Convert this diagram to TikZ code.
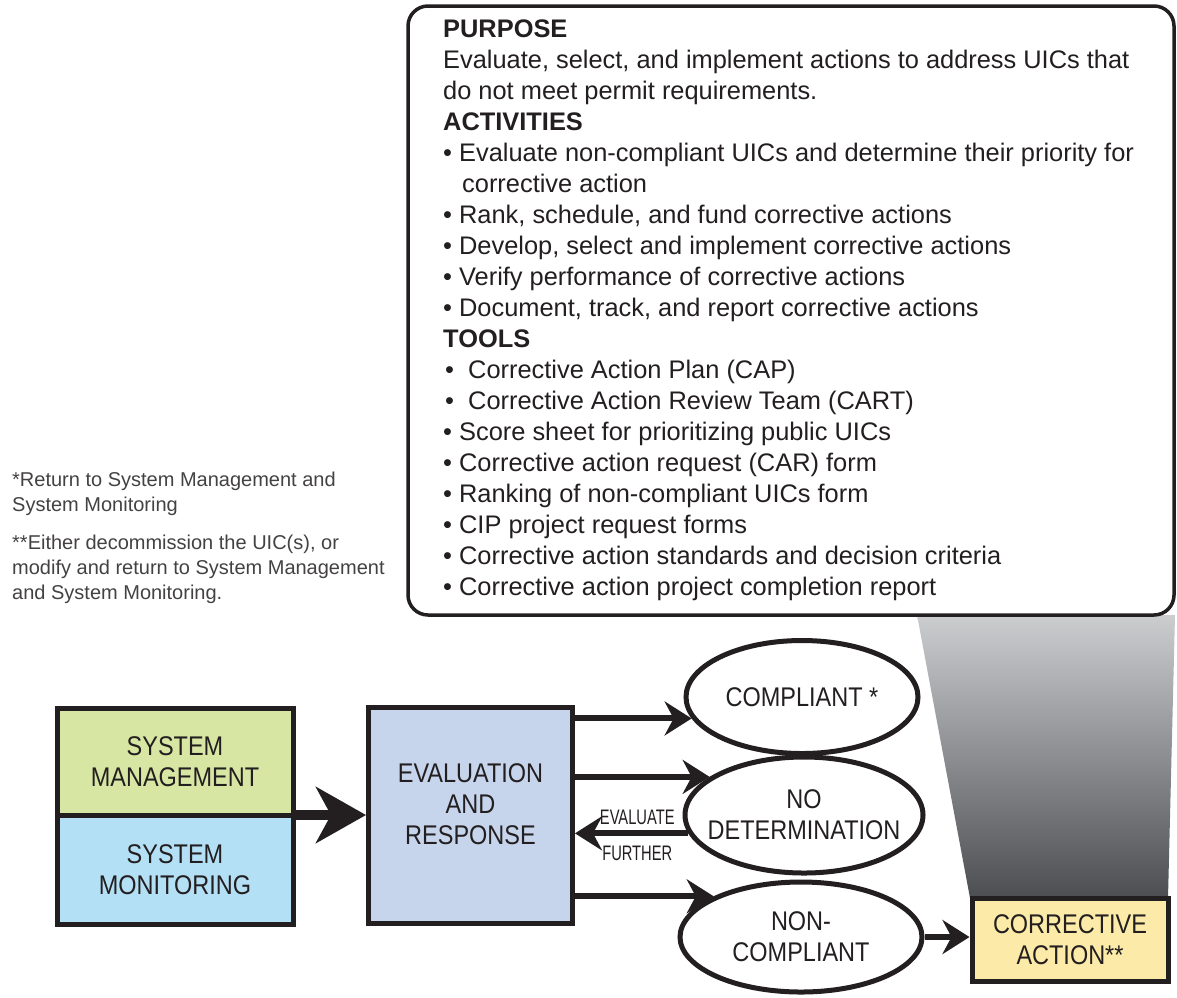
\documentclass[tikz,border=0pt]{standalone}
\usepackage{fontspec}
\setmainfont{Liberation Sans}
\newfontfamily\narrowfont{Liberation Sans}[FakeStretch=0.87]
\newfontfamily\squeezefont{Liberation Sans}[FakeStretch=0.70]
\usetikzlibrary{
  arrows.meta,
  calc,
  positioning,
  shapes.geometric
}
\definecolor{inkdark}{RGB}{35,31,32}
\definecolor{mgmtgreen}{RGB}{216,230,164}
\definecolor{monblue}{RGB}{180,224,245}
\definecolor{evalblue}{RGB}{198,212,236}
\definecolor{actyellow}{RGB}{252,234,168}
\definecolor{fadetop}{RGB}{204,205,207}
\definecolor{fadebot}{RGB}{76,78,82}
\newcommand{\zbox}[1]{\makebox[0pt]{#1}}
\tikzset{
  stage/.style={draw=inkdark,line width=5pt,align=center,inner sep=0pt,
    text=inkdark,font=\narrowfont\fontsize{27}{31}\selectfont},
  outcome/.style={ellipse,draw=inkdark,line width=5pt,align=center,
    inner sep=0pt,text=inkdark,font=\narrowfont\fontsize{27}{31}\selectfont},
  infobox/.style={draw=inkdark,line width=3.5pt,rounded corners=20pt,
    fill=white},
  infotext/.style={align=left,inner sep=0pt,text=inkdark,
    font=\fontsize{25.4}{31}\selectfont},
  notetext/.style={align=left,inner sep=0pt,text=inkdark!85,
    font=\fontsize{20}{25}\selectfont},
  flow/.style={-{Stealth[length=27pt,width=34pt,inset=9pt]},
    line width=6pt,draw=inkdark},
  bigflow/.style={-{Stealth[length=50pt,width=56pt,inset=15pt]},
    line width=10pt,draw=inkdark},
  flowlab/.style={inner sep=1pt,text=inkdark,
    font=\squeezefont\fontsize{21}{21}\selectfont}
}
\begin{document}
\begin{tikzpicture}[x=1pt,y=-1pt]
  \useasboundingbox (0,0) rectangle (1177,997);

  % grey fan from the detail box down to corrective action
  \shade[top color=fadetop,bottom color=fadebot]
    (917,615) -- (1175,615) -- (1168,898) -- (970,898) -- cycle;

  \node[infobox,minimum width=766pt,minimum height=609pt] (info)
    at (791,310.5) {};
  \node[infotext,anchor=north west] (infotext) at (443,20) {%
    \textbf{PURPOSE}\\
    Evaluate, select, and implement actions to address UICs that\\
    do not meet permit requirements.\\
    \textbf{ACTIVITIES}\\
    • Evaluate non-compliant UICs and determine their priority for\\
    \hspace*{19pt}corrective action\\
    • Rank, schedule, and fund corrective actions\\
    • Develop, select and implement corrective actions\\
    • Verify performance of corrective actions\\
    • Document, track, and report corrective actions\\
    \textbf{TOOLS}\\
    \hspace*{2pt}•\ \ Corrective Action Plan (CAP)\\
    \hspace*{2pt}•\ \ Corrective Action Review Team (CART)\\
    • Score sheet for prioritizing public UICs\\
    • Corrective action request (CAR) form\\
    • Ranking of non-compliant UICs form\\
    • CIP project request forms\\
    • Corrective action standards and decision criteria\\
    • Corrective action project completion report};

  \node[notetext,anchor=north west] (notes) at (12,472) {%
    *Return to System Management and\\
    System Monitoring\\[13pt]
    **Either decommission the UIC(s), or\\
    modify and return to System Management\\
    and System Monitoring.};

  % process boxes
  \node[stage,fill=mgmtgreen,minimum width=236pt,minimum height=107pt]
    (sysmgmt) at (175,761.5) {SYSTEM\\MANAGEMENT};
  \node[stage,fill=monblue,minimum width=236pt,minimum height=109pt]
    (sysmon) at (175,869.5) {SYSTEM\\MONITORING};
  \node[stage,fill=evalblue,minimum width=204pt,minimum height=216pt]
    (eval) at (470.5,815.5) {EVALUATION\\AND\\RESPONSE\\[-9pt]\mbox{}};
  \node[stage,fill=actyellow,minimum width=196pt,minimum height=83pt]
    (corract) at (1070,939.5) {CORRECTIVE\\ACTION**};

  % outcomes
  \node[outcome,minimum width=232pt,minimum height=113pt] (compl)
    at (802,697) {\zbox{COMPLIANT *}};
  \node[outcome,minimum width=238pt,minimum height=116pt] (nodet)
    at (804,815) {\zbox{NO}\\\zbox{DETERMINATION}};
  \node[outcome,minimum width=242pt,minimum height=110pt] (noncompl)
    at (801,937) {\zbox{NON-}\\\zbox{COMPLIANT}};

  \coordinate (joint) at ($(sysmgmt.south east)!0.5!(sysmon.north east)$);
  \draw[bigflow] (joint) -- (eval.west |- joint);
  \draw[flow] (eval.east |- compl.191) -- (compl.191);
  \draw[flow] (eval.east |- nodet.158) -- (nodet.158);
  \draw[flow] (nodet.189)
    -- node[flowlab,above=5pt,pos=0.45] (evallab) {EVALUATE}
       node[flowlab,below=9pt,pos=0.45] (furtherlab) {FURTHER}
    (eval.east |- nodet.189);
  \draw[flow] (eval.east |- noncompl.155) -- (noncompl.155);
  \draw[flow] (noncompl.east) -- (noncompl.east -| corract.west);
\end{tikzpicture}
\end{document}
